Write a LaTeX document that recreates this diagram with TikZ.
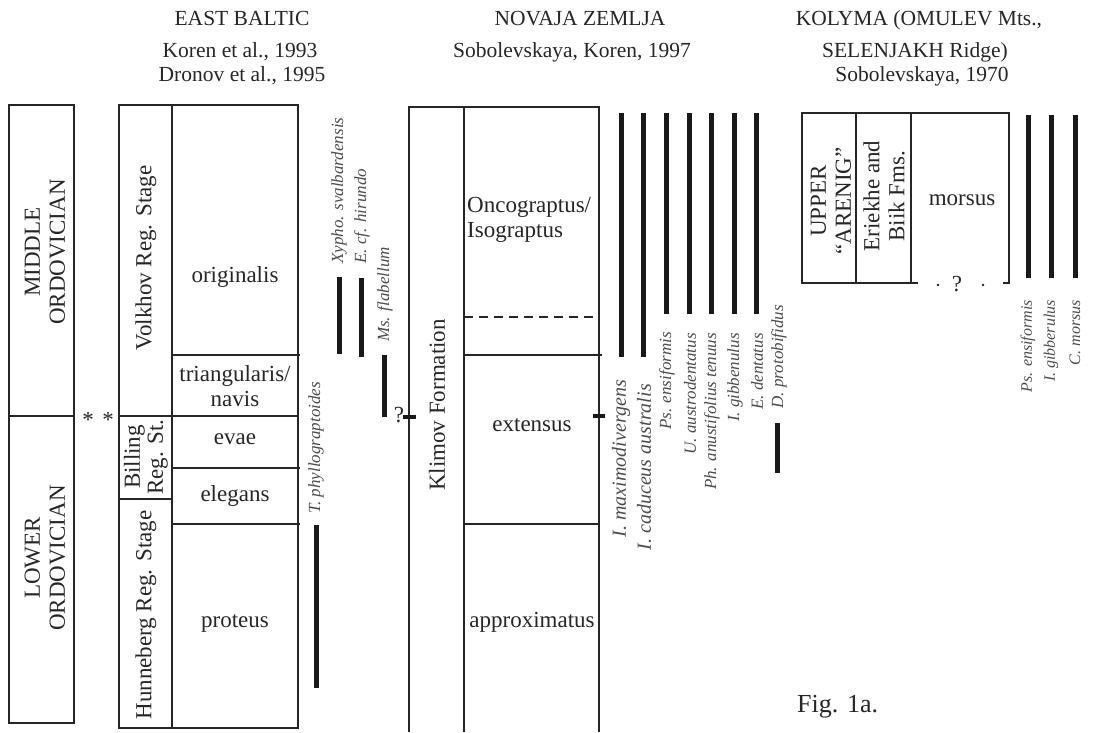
\documentclass[tikz,border=0pt]{standalone}
\usepackage{fontspec}
\setmainfont{Liberation Serif}
\begin{document}
\begin{tikzpicture}[x=1pt,y=-1pt,
  box/.style={line width=1.3pt, draw=black!85},
  bar/.style={line width=5pt, draw=black!90},
  tick/.style={line width=4pt, draw=black!90},
  hdr/.style={font=\fontsize{21.5}{25}\selectfont, inner sep=0pt, anchor=base, text=black!85},
  txt/.style={font=\fontsize{23}{25}\selectfont, inner sep=0pt, text=black!85},
  rtxt/.style={txt, rotate=90, align=center},
  sp/.style={font=\fontsize{17}{20}\selectfont\itshape, text=black!70, rotate=90, inner sep=0pt},
  spl/.style={sp, font=\fontsize{20}{22}\selectfont\itshape},
  spk/.style={sp, font=\fontsize{16}{20}\selectfont\itshape},
]
\useasboundingbox (0,0) rectangle (1113,732);
% headers
\node[hdr] (h1a) at (242,25) {EAST BALTIC};
\node[hdr] (h1b) at (240,57) {Koren et al., 1993};
\node[hdr] (h1c) at (242,81) {Dronov et al., 1995};
\node[hdr] (h2a) at (580,25) {NOVAJA ZEMLJA};
\node[hdr] (h2b) at (572,57) {Sobolevskaya, Koren, 1997};
\node[hdr] (h3a) at (919,25) {KOLYMA (OMULEV Mts.,};
\node[hdr] (h3b) at (915,57) {SELENJAKH Ridge)};
\node[hdr] (h3c) at (922,81) {Sobolevskaya, 1970};
% series column
\draw[box] (9,105) rectangle (74,723);
\draw[box] (9,416) -- (74,416);
\node[rtxt] (mo) at (45,252) {MIDDLE\\ORDOVICIAN};
\node[rtxt] (lo) at (45,558) {LOWER\\ORDOVICIAN};
\node[txt] (s1) at (88,420) {*};
\node[txt] (s2) at (108,420) {*};
% East Baltic stages and zones
\draw[box] (119,105) rectangle (298,728);
\draw[box] (172,105) -- (172,728);
\draw[box] (119,416) -- (299,416);
\draw[box] (119,499) -- (172,499);
\draw[box] (172,355) -- (300,355);
\draw[box] (172,468) -- (300,468);
\draw[box] (172,524) -- (300,524);
\node[rtxt] (volk) at (146,258) {Volkhov Reg. Stage};
\node[rtxt, font=\fontsize{23}{23}\selectfont] (bill) at (146,457) {Billing\\Reg. St.};
\node[rtxt] (hunn) at (146,615) {Hunneberg Reg. Stage};
\node[txt] (zorig) at (235,277) {originalis};
\node[txt, align=center] (ztri) at (235,386) {triangularis/\\navis};
\node[txt] (zeva) at (235,439) {evae};
\node[txt] (zele) at (235,496) {elegans};
\node[txt] (zpro) at (235,623) {proteus};
% East Baltic ranges
\draw[bar] (339,277) -- (339,354);
\draw[bar] (361,278) -- (361,357);
\draw[bar] (384,355) -- (384,417);
\draw[bar] (316,525) -- (316,688);
\node[sp, anchor=west] (lxy) at (339,264) {Xypho. svalbardensis};
\node[sp, anchor=west] (leh) at (362,264) {E. cf. hirundo};
\node[sp, anchor=west] (lms) at (385,342) {Ms. flabellum};
\node[sp, anchor=west] (ltp) at (316,514) {T. phyllograptoides};
\node[txt] (q1) at (399,415) {?};
% Novaja Zemlja
\draw[box] (409,732) -- (409,107) -- (599,107) -- (599,732);
\draw[box] (464,107) -- (464,732);
\draw[box, dash pattern=on 9pt off 6pt] (464,317) -- (600,317);
\draw[box] (464,355) -- (602,355);
\draw[box] (464,524) -- (599,524);
\draw[tick] (403,417) -- (416,417);
\draw[tick] (593,416) -- (605,416);
\node[rtxt] (klim) at (437,405) {Klimov Formation};
\node[txt, align=left, anchor=west] (zonc) at (467,220) {Oncograptus/\\Isograptus};
\node[txt] (zext) at (532,425) {extensus};
\node[txt] (zapp) at (532,622) {approximatus};
% Novaja Zemlja ranges
\draw[bar] (621,113) -- (621,357);
\draw[bar] (643,113) -- (643,357);
\draw[bar] (666,113) -- (666,314);
\draw[bar] (689,113) -- (689,314);
\draw[bar] (711,113) -- (711,314);
\draw[bar] (734,113) -- (734,314);
\draw[bar] (756,113) -- (756,314);
\draw[bar] (777,423) -- (777,473);
\node[spl, anchor=east] (n1) at (621,380) {I. maximodivergens};
\node[spl, anchor=east] (n2) at (644,384) {I. caduceus australis};
\node[sp, anchor=east] (n3) at (667,332) {Ps. ensiformis};
\node[sp, anchor=east] (n4) at (690,333) {U. austrodentatus};
\node[sp, anchor=east] (n5) at (712,333) {Ph. anustifolius tenuus};
\node[sp, anchor=east] (n6) at (735,333) {I. gibbenulus};
\node[sp, anchor=east] (n7) at (757,333) {E. dentatus};
\node[sp, anchor=east] (n8) at (779,305) {D. protobifidus};
% Kolyma
\draw[box] (918,283) -- (802,283) -- (802,113) -- (1009,113) -- (1009,283) -- (1003,283);
\draw[box] (856,113) -- (856,283);
\draw[box] (911,113) -- (911,283);
\fill[black!85] (938,285) circle (1.3);
\fill[black!85] (983,285) circle (1.3);
\node[txt] (q2) at (957,284) {?};
\node[rtxt] (uar) at (831,201) {UPPER\\“ARENIG”};
\node[rtxt] (erb) at (884,196) {Eriekhe and\\Biik Fms.};
\node[txt] (zmor) at (962,200) {morsus};
\draw[bar] (1028,115) -- (1028,278);
\draw[bar] (1051,115) -- (1051,278);
\draw[bar] (1075,115) -- (1075,278);
\node[spk, anchor=east] (k1) at (1028,300) {Ps. ensiformis};
\node[spk, anchor=east] (k2) at (1051,300) {I. gibberulus};
\node[spk, anchor=east] (k3) at (1075,300) {C. morsus};
\node[font=\fontsize{26}{30}\selectfont, anchor=base west, inner sep=0pt, text=black!85] (fig) at (797,712) {Fig. 1a.};
\end{tikzpicture}
\end{document}
